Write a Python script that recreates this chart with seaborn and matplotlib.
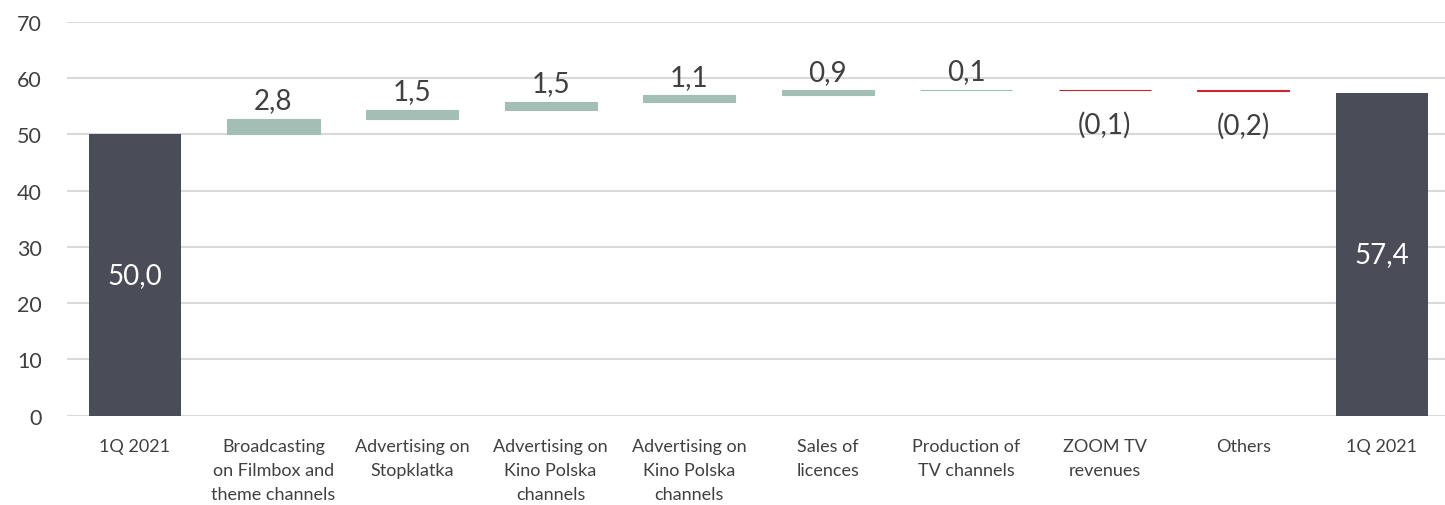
import numpy as np
import pandas as pd
import matplotlib
matplotlib.use("Agg")
import matplotlib.pyplot as plt
import seaborn as sns

# ---- data ----
categories = [
    "1Q 2021",
    "Broadcasting\non Filmbox and\ntheme channels",
    "Advertising on\nStopklatka",
    "Advertising on\nKino Polska\nchannels",
    "Advertising on\nKino Polska\nchannels",
    "Sales of\nlicences",
    "Production of\nTV channels",
    "ZOOM TV\nrevenues",
    "Others",
    "1Q 2021",
]
start_value = 50.0
changes = [2.8, 1.5, 1.5, 1.1, 0.9, 0.1, -0.1, -0.2]
end_value = 57.4
value_labels = ["50,0", "2,8", "1,5", "1,5", "1,1", "0,9", "0,1", "(0,1)", "(0,2)", "57,4"]
y_ticks = [0, 10, 20, 30, 40, 50, 60, 70]

# ---- waterfall geometry from data ----
cum = start_value + np.cumsum(changes)
prev = np.concatenate([[start_value], cum[:-1]])
bottoms = [0.0] + list(np.minimum(prev, cum)) + [0.0]
heights = [start_value] + list(np.abs(changes)) + [end_value]
kinds = ["total"] + ["up" if c >= 0 else "down" for c in changes] + ["total"]

DARK = "#4A4D57"
GREEN = "#A3BFB5"
RED = "#C8262E"
colors = {"total": DARK, "up": GREEN, "down": RED}
bar_colors = [colors[k] for k in kinds]
TEXT = "#404040"

df = pd.DataFrame({"pos": list(range(len(categories))), "height": heights})

sns.set_theme(style="white")
plt.rcParams["font.family"] = ["Lato", "DejaVu Sans"]

fig = plt.figure(figsize=(14.45, 5.06), dpi=100)
ax = fig.add_axes([67 / 1445, 1 - 416.7 / 506, 1 - 67 / 1445, (416.7 - 22.7) / 506])

sns.barplot(data=df, x="pos", y="height", hue="pos", palette=bar_colors,
            legend=False, width=0.665, ax=ax, saturation=1, zorder=3)

for patch, b, k, c in zip(ax.patches, bottoms, kinds, bar_colors):
    patch.set_y(b)
    if k != "total":
        patch.set_edgecolor(c)
        patch.set_linewidth(0.8)
    else:
        patch.set_linewidth(0)

# labels
for i, (b, h, k, lab) in enumerate(zip(bottoms, heights, kinds, value_labels)):
    if k == "total":
        ax.text(i, h / 2, lab, ha="center", va="center", color="white", fontsize=20)
    elif k == "up":
        ax.annotate(lab, (i, b + h), xytext=(0, 4), textcoords="offset points",
                    ha="center", va="bottom", color=TEXT, fontsize=20)
    else:
        ax.annotate(lab, (i, b), xytext=(0, -15), textcoords="offset points",
                    ha="center", va="top", color=TEXT, fontsize=20)

ax.set_ylim(0, 70)
ax.set_xlim(-0.49, 9.455)
ax.set_yticks(y_ticks)
ax.set_yticklabels([str(t) for t in y_ticks], fontsize=15.5, color=TEXT)
ax.set_xticks(range(len(categories)))
ax.set_xticklabels(categories, fontsize=13, color=TEXT, linespacing=1.6)
ax.tick_params(axis="y", length=0, pad=18)
ax.tick_params(axis="x", length=0, pad=16)
ax.set_xlabel("")
ax.set_ylabel("")
ax.grid(axis="y", color="#D9D9D9", linewidth=1.5, zorder=0)
ax.set_axisbelow(True)
for s in ["top", "right", "left", "bottom"]:
    ax.spines[s].set_visible(False)

fig.savefig("out.png", dpi=100)
